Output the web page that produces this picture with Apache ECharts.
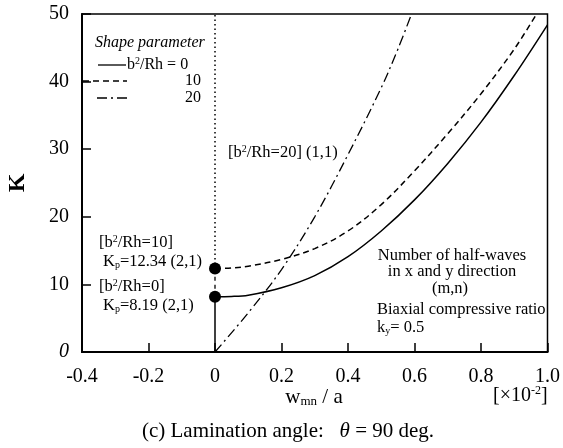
<!DOCTYPE html>
<html>
<head>
<meta charset="utf-8">
<script src="https://cdn.jsdelivr.net/npm/echarts@6/dist/echarts.min.js"></script>
<style>
  html, body { margin: 0; padding: 0; background: #fff; }
  #chart { width: 563px; height: 448px; }
</style>
</head>
<body>
<div id="chart"></div>
<script>
// tick labels
var xTicks = [-0.4, -0.2, 0, 0.2, 0.4, 0.6, 0.8, 1.0];
var yTicks = [0, 10, 20, 30, 40, 50];

// b2/Rh = 0 (solid)
var shape0 = [[0, 8.19], [0.05, 8.22], [0.1, 8.4], [0.2, 9.5], [0.3, 11.3], [0.4, 14.1],
  [0.5, 17.9], [0.6, 22.5], [0.7, 27.9], [0.8, 34.0], [0.9, 40.9], [1.0, 48.4]];
// b2/Rh = 10 (dashed)
var shape10 = [[0, 12.34], [0.05, 12.42], [0.1, 12.7], [0.2, 13.7], [0.3, 15.3], [0.4, 17.9],
  [0.5, 21.8], [0.6, 26.8], [0.7, 32.3], [0.8, 38.2], [0.9, 44.8], [0.967, 50]];
// b2/Rh = 20 (dash-dot)
var shape20 = [[0, 0], [0.1, 5.8], [0.2, 12.2], [0.3, 20.0], [0.4, 29.2], [0.5, 39.1],
  [0.55, 44.8], [0.591, 50]];

// vertical parts at w = 0
var vert0 = [[0, 0], [0, 8.19]];
var vert10 = [[0, 8.19], [0, 12.34]];
var vertDot = [[0, 12.34], [0, 50]];
var kpPoints = [[0, 8.19], [0, 12.34]];

var serif = "Liberation Serif";

function txt(x, y, s, size, align, extra) {
  var st = {
    text: s, x: 0, y: 0, fill: "#000",
    font: (extra && extra.font) || (size + "px " + serif),
    align: align || "left", verticalAlign: "middle",
    rich: {
      sup: { fontSize: Math.round(size * 0.62), fontFamily: serif, padding: [0, 0, Math.round(size * 0.5), 0] },
      sub: { fontSize: Math.round(size * 0.62), fontFamily: serif, padding: [Math.round(size * 0.45), 0, 0, 0] },
      it: { fontSize: size, fontFamily: serif, fontStyle: "italic" },
      n: { fontSize: size, fontFamily: serif }
    }
  };
  return { type: "text", x: x, y: y, style: st, z: 100, rotation: (extra && extra.rotation) || 0 };
}

function seg(x1, y1, x2, y2, dash) {
  return { type: "line", shape: { x1: x1, y1: y1, x2: x2, y2: y2 },
    style: { stroke: "#000", lineWidth: 1.3, lineDash: dash || null }, z: 100 };
}

var option = {
  backgroundColor: "#fff",
  animation: false,
  grid: { left: 82, right: 11, top: 14, bottom: 96, show: true, borderColor: "#000", borderWidth: 1.5 },
  xAxis: {
    type: "value", min: -0.4, max: 1.0, interval: 0.2,
    axisLine: { onZero: false, lineStyle: { color: "#000", width: 2 } },
    axisTick: { inside: true, length: 9, lineStyle: { color: "#000", width: 1.5 } },
    splitLine: { show: false },
    axisLabel: {
      color: "#000", fontFamily: serif, fontSize: 20, margin: 15,
      formatter: function (v) { return Math.abs(v) < 1e-9 ? "0" : v.toFixed(1); }
    }
  },
  yAxis: {
    type: "value", min: 0, max: 50, interval: 10,
    axisLine: { onZero: false, lineStyle: { color: "#000", width: 2 } },
    axisTick: { inside: true, length: 9, lineStyle: { color: "#000", width: 1.5 } },
    splitLine: { show: false },
    axisLabel: {
      color: "#000", fontFamily: serif, fontSize: 20, margin: 13,
      formatter: function (v) { return v === 0 ? "{i|0}" : String(v); },
      rich: { i: { fontStyle: "italic", fontFamily: serif, fontSize: 20, color: "#000" } }
    }
  },
  series: [
    { type: "line", data: shape0, smooth: 0.35, symbol: "none",
      lineStyle: { color: "#000", width: 1.5 } },
    { type: "line", data: shape10, smooth: 0.35, symbol: "none",
      lineStyle: { color: "#000", width: 1.5, type: [6, 4] } },
    { type: "line", data: shape20, smooth: 0.35, symbol: "none",
      lineStyle: { color: "#000", width: 1.3, type: [10, 4, 2, 4] } },
    { type: "line", data: vert0, symbol: "none", lineStyle: { color: "#000", width: 1.5 } },
    { type: "line", data: vert10, symbol: "none", lineStyle: { color: "#000", width: 1.3, type: [4, 4] } },
    { type: "line", data: vertDot, symbol: "none", lineStyle: { color: "#000", width: 1.5, type: [1.5, 3] } },
    { type: "scatter", data: kpPoints, symbol: "circle", symbolSize: 12,
      itemStyle: { color: "#000", opacity: 1 }, z: 10 }
  ],
  graphic: [
    // legend
    txt(95, 43, "Shape parameter", 16, "left", { font: "italic 16px " + serif }),
    seg(98, 65, 126, 65),
    seg(83, 81, 127, 81, [6, 4]),
    seg(97, 98, 127, 98, [10, 4, 2, 4]),
    txt(127, 65, "{n|b}{sup|2}{n|/Rh = 0}", 16),
    txt(201, 81, "10", 16, "right"),
    txt(201, 98, "20", 16, "right"),
    // curve notes
    txt(228, 153, "{n|[b}{sup|2}{n|/Rh=20] (1,1)}", 16.5),
    txt(99, 243, "{n|[b}{sup|2}{n|/Rh=10]}", 16.5),
    txt(103, 262, "{n|K}{sub|p}{n|=12.34 (2,1)}", 16.5),
    txt(99, 287, "{n|[b}{sup|2}{n|/Rh=0]}", 16.5),
    txt(103, 306, "{n|K}{sub|p}{n|=8.19 (2,1)}", 16.5),
    txt(452, 256, "Number of half-waves", 16.5, "center"),
    txt(452, 272, "in x and y direction", 16.5, "center"),
    txt(450, 289, "(m,n)", 16.5, "center"),
    txt(377, 310, "Biaxial compressive ratio", 16.5),
    txt(377, 328, "{n|k}{sub|y}{n|= 0.5}", 16.5),
    // axis titles
    txt(18, 183, "K", 24, "center", { font: "bold 24px " + serif, rotation: Math.PI / 2 }),
    txt(314, 397, "{n|w}{sub|mn}{n| / a}", 21, "center"),
    txt(493, 396, "{n|[\u00d710}{sup|-2}{n|]}", 20),
    txt(288, 431, "{n|(c) Lamination angle:   }{it|\u03b8}{n| = 90 deg.}", 21, "center")
  ]
};

var chart = echarts.init(document.getElementById("chart"));
chart.setOption(option);
</script>
</body>
</html>
